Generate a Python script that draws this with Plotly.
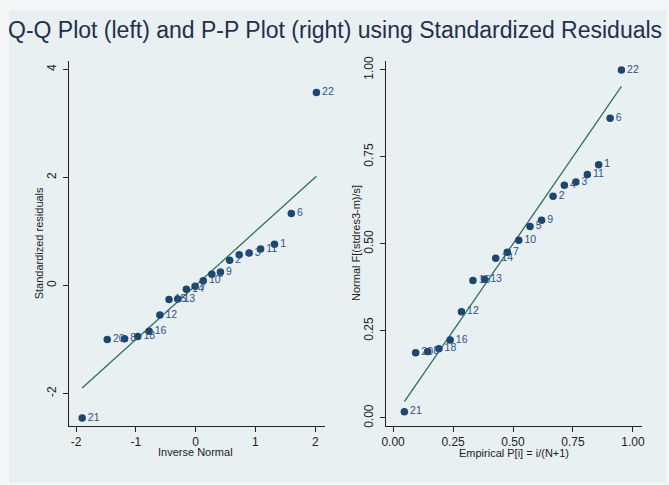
import plotly.graph_objects as go

# Observation ids, ordered by standardized residual
obs_id = [21, 20, 8, 18, 16, 12, 15, 13, 14, 7, 10, 5, 9, 2, 4, 3, 11, 1, 6, 22]

# Q-Q plot: inverse-normal quantiles vs standardized residuals
inv_normal = [-1.90, -1.48, -1.19, -0.97, -0.78, -0.60, -0.447, -0.30, -0.156, -0.01,
              0.126, 0.27, 0.414, 0.568, 0.728, 0.894, 1.086, 1.318, 1.60, 2.02]
std_resid = [-2.455, -1.00, -0.99, -0.945, -0.85, -0.55, -0.26, -0.25, -0.07, -0.015,
             0.088, 0.204, 0.246, 0.465, 0.569, 0.599, 0.672, 0.763, 1.33, 3.573]

# P-P plot: empirical P[i] = i/(N+1) vs normal CDF of standardized residuals
emp_p = [0.047, 0.094, 0.144, 0.191, 0.238, 0.285, 0.333, 0.381, 0.428, 0.476,
         0.524, 0.571, 0.619, 0.667, 0.714, 0.762, 0.810, 0.857, 0.905, 0.952]
norm_f = [0.018, 0.187, 0.1905, 0.199, 0.224, 0.305, 0.395, 0.398, 0.4585, 0.476,
          0.510, 0.550, 0.568, 0.637, 0.668, 0.678, 0.699, 0.727, 0.861, 0.9995]

qq_xticks = [-2, -1, 0, 1, 2]
qq_xlabels = ["-2", "-1", "0", "1", "2"]
qq_yticks = [-2, 0, 2, 4]
qq_ylabels = ["-2", "0", "2", "4"]
pp_ticks = [0.0, 0.25, 0.5, 0.75, 1.0]

W, H = 669, 485
MARKER = "#1a476f"
LABEL = "#2f5283"
REFLINE = "#2f6f62"
BG = "#e9f0f2"
FONT = "Liberation Sans, Arial, sans-serif"

fig = go.Figure()


def add_panel(x, y, xa, ya):
    lo, hi = min(x), max(x)
    fig.add_trace(go.Scatter(
        x=[lo, hi], y=[lo, hi], mode="lines",
        line=dict(color=REFLINE, width=1.3),
        xaxis=xa, yaxis=ya, hoverinfo="skip", showlegend=False))
    fig.add_trace(go.Scatter(
        x=x, y=y, mode="markers+text", cliponaxis=False,
        marker=dict(color=MARKER, size=7.5),
        text=[str(i) for i in obs_id], textposition="middle right",
        textfont=dict(color=LABEL, size=10.5, family=FONT),
        xaxis=xa, yaxis=ya, showlegend=False))


add_panel(inv_normal, std_resid, "x", "y")
add_panel(emp_p, norm_f, "x2", "y2")


def px_x(p):
    return p / W


def px_y(p):
    return 1 - p / H


axis_common = dict(
    showline=True, linecolor="#222222", linewidth=1,
    ticks="outside", ticklen=5, tickcolor="#222222", tickwidth=1,
    showgrid=False, zeroline=False, mirror=False,
    tickfont=dict(size=12, color="#222222", family=FONT),
)

ydom = [px_y(426.7), px_y(56.7)]

fig.update_layout(
    width=W, height=H,
    margin=dict(l=0, r=0, t=0, b=0),
    paper_bgcolor="#f4f7f8",
    plot_bgcolor="white",
    xaxis=dict(domain=[px_x(65.7), px_x(324)], range=[-2.12, 2.157],
               tickvals=qq_xticks, ticktext=qq_xlabels, anchor="y", **axis_common),
    yaxis=dict(domain=ydom, range=[-2.595, 4.157], tickvals=qq_yticks,
               ticktext=qq_ylabels, tickangle=-90, anchor="x",
               ticklabelstandoff=2, **axis_common),
    xaxis2=dict(domain=[px_x(385.7), px_x(644.3)], range=[-0.031, 1.036],
                tickvals=pp_ticks, tickformat=".2f", anchor="y2", **axis_common),
    yaxis2=dict(domain=ydom, range=[-0.0218, 1.0255], tickvals=pp_ticks,
                tickformat=".2f", tickangle=-90, anchor="x2", ticklabelstandoff=2,
                **axis_common),
    shapes=[dict(type="rect", xref="paper", yref="paper", layer="below",
                 x0=px_x(5), x1=1, y0=0, y1=px_y(5),
                 fillcolor=BG, line=dict(width=0))],
    annotations=[
        dict(text="Q-Q Plot (left) and P-P Plot (right) using Standardized Residuals",
             xref="paper", yref="paper", x=px_x(2), y=px_y(25),
             xanchor="left", yanchor="middle", showarrow=False,
             font=dict(size=23, color="#1f2f4f", family=FONT)),
        dict(text="Inverse Normal", xref="paper", yref="paper",
             x=px_x(194), y=px_y(454), xanchor="center", yanchor="middle",
             showarrow=False, font=dict(size=11, color="#222222", family=FONT)),
        dict(text="Empirical P[i] = i/(N+1)", xref="paper", yref="paper",
             x=px_x(515), y=px_y(454.5), xanchor="center", yanchor="middle",
             showarrow=False, font=dict(size=11, color="#222222", family=FONT)),
        dict(text="Standardized residuals", xref="paper", yref="paper",
             x=px_x(35.5), y=px_y(241.7), xanchor="center", yanchor="middle",
             textangle=-90, showarrow=False,
             font=dict(size=11, color="#222222", family=FONT)),
        dict(text="Normal F[(stdres3-m)/s]", xref="paper", yref="paper",
             x=px_x(355.5), y=px_y(241.7), xanchor="center", yanchor="middle",
             textangle=-90, showarrow=False,
             font=dict(size=11, color="#222222", family=FONT)),
    ],
)

fig.write_html("out.html")
